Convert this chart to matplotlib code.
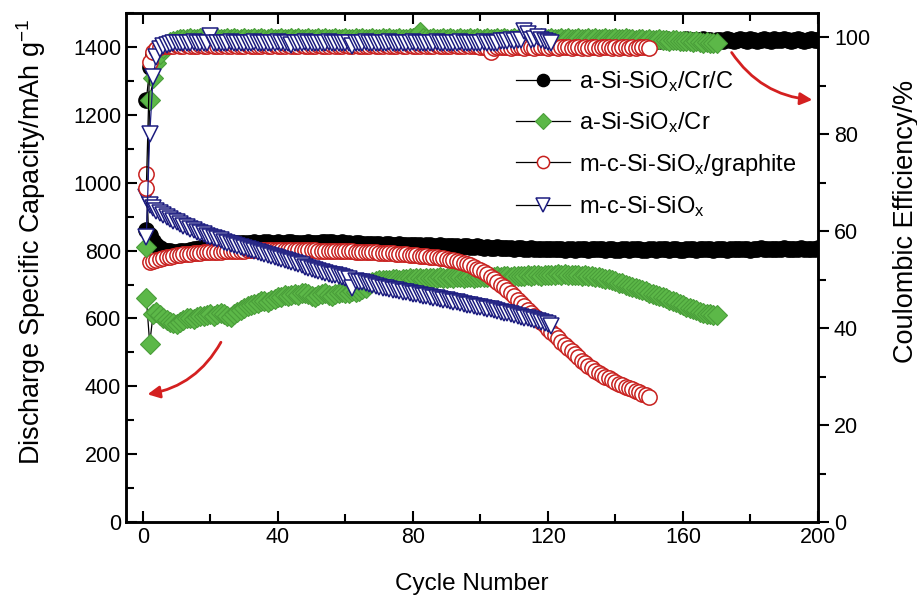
"""Cycling capacity and coulombic efficiency of the Si-SiOx anodes."""

import matplotlib
matplotlib.use("Agg")
import matplotlib.pyplot as plt
from matplotlib.ticker import MultipleLocator
import numpy as np

plt.rcParams["font.family"] = ["Liberation Sans", "DejaVu Sans"]
plt.rcParams["mathtext.fontset"] = "custom"
plt.rcParams["mathtext.rm"] = "Liberation Sans"
plt.rcParams["mathtext.it"] = "Liberation Sans"

labels = [
    "a-Si-SiO$_x$/Cr/C",
    "a-Si-SiO$_x$/Cr",
    "m-c-Si-SiO$_x$/graphite",
    "m-c-Si-SiO$_x$",
]

# discharge capacity (mAh/g), one value per cycle starting at cycle 1
cap_cr_c = [
    860, 845, 828, 815, 808, 803, 800, 798, 797, 797,
    798, 799, 800, 802, 804, 806, 808, 810, 812, 814,
    815, 816, 818, 819, 820, 821, 821, 822, 822, 823,
    822, 823, 824, 823, 822, 824, 825, 823, 822, 824,
    823, 822, 824, 825, 823, 822, 821, 823, 824, 822,
    821, 823, 824, 825, 826, 824, 823, 822, 824, 823,
    821, 820, 822, 821, 819, 820, 818, 819, 820, 818,
    817, 818, 819, 817, 816, 818, 817, 815, 816, 817,
    815, 816, 814, 815, 816, 814, 813, 815, 814, 812,
    813, 814, 812, 811, 813, 812, 810, 811, 812, 810,
    809, 810, 808, 809, 810, 808, 807, 809, 808, 806,
    807, 808, 806, 805, 807, 806, 805, 804, 806, 805,
    804, 805, 806, 804, 803, 805, 804, 803, 805, 806,
    804, 803, 805, 804, 806, 805, 803, 804, 805, 803,
    802, 804, 805, 803, 804, 806, 805, 803, 802, 804,
    805, 803, 804, 806, 804, 803, 805, 804, 802, 803,
    805, 806, 804, 803, 805, 804, 806, 805, 803, 804,
    806, 805, 803, 804, 806, 805, 804, 806, 805, 803,
    804, 806, 807, 805, 804, 806, 805, 804, 806, 807,
    805, 804, 806, 805, 807, 806, 804, 805, 806, 807,
]
cap_cr = [
    659, 526, 612, 620, 610, 600, 594, 590, 586, 584,
    590, 596, 600, 602, 598, 604, 608, 606, 610, 612,
    608, 614, 616, 612, 606, 604, 612, 620, 626, 630,
    636, 640, 642, 646, 650, 652, 648, 654, 658, 662,
    664, 668, 666, 670, 672, 668, 674, 676, 672, 666,
    662, 668, 672, 676, 670, 666, 672, 676, 678, 674,
    676, 680, 678, 682, 686, 690, 702, 708, 710, 712,
    712, 714, 713, 715, 716, 714, 716, 717, 718, 716,
    718, 719, 717, 719, 720, 718, 720, 721, 719, 720,
    721, 720, 722, 721, 719, 721, 722, 720, 722, 721,
    722, 723, 721, 723, 724, 722, 724, 725, 723, 725,
    726, 724, 726, 727, 725, 727, 728, 726, 728, 729,
    727, 729, 730, 728, 730, 729, 727, 729, 728, 726,
    727, 725, 724, 722, 721, 719, 717, 715, 713, 710,
    705, 703, 700, 697, 694, 691, 688, 684, 680, 676,
    672, 669, 666, 662, 659, 655, 651, 647, 643, 639,
    635, 631, 627, 624, 620, 617, 614, 612, 610, 609,
]
cap_graphite = [
    1025, 765, 768, 772, 775, 778, 780, 782, 784, 786,
    788, 789, 790, 791, 792, 793, 794, 795, 795, 796,
    796, 797, 797, 798, 798, 799, 799, 800, 800, 800,
    801, 801, 801, 801, 802, 802, 802, 802, 802, 802,
    802, 802, 802, 802, 802, 801, 801, 801, 801, 801,
    801, 800, 800, 800, 800, 800, 799, 799, 799, 798,
    798, 798, 797, 797, 797, 796, 796, 795, 795, 794,
    794, 793, 793, 792, 791, 791, 790, 789, 788, 787,
    786, 785, 784, 783, 782, 781, 780, 778, 777, 775,
    773, 771, 769, 766, 763, 760, 756, 752, 747, 742,
    736, 730, 723, 716, 708, 700, 692, 683, 674, 665,
    655, 645, 636, 626, 617, 608, 599, 590, 580, 570,
    561, 551, 541, 531, 522, 512, 503, 494, 485, 476,
    468, 460, 453, 446, 440, 434, 428, 423, 418, 413,
    408, 403, 399, 395, 391, 387, 383, 378, 373, 367,
]
cap_sio = [
    958, 935, 926, 918, 911, 905, 899, 893, 888, 883,
    878, 873, 868, 864, 860, 856, 852, 848, 844, 840,
    837, 833, 830, 826, 823, 820, 817, 813, 810, 807,
    804, 801, 798, 795, 792, 789, 786, 783, 780, 777,
    774, 771, 768, 765, 762, 759, 756, 753, 750, 747,
    744, 741, 738, 735, 732, 729, 727, 724, 721, 718,
    716, 690, 711, 708, 706, 703, 701, 698, 696, 694,
    691, 689, 687, 685, 683, 681, 679, 677, 675, 673,
    671, 669, 667, 665, 663, 661, 659, 657, 655, 653,
    651, 649, 647, 645, 643, 641, 639, 637, 635, 633,
    631, 629, 627, 624, 622, 620, 617, 615, 612, 610,
    607, 605, 602, 600, 597, 595, 592, 590, 587, 585,
    578,
]

# coulombic efficiency (%), one value per cycle starting at cycle 1
ce_cr_c = [
    87.0, 93.8, 96.5, 97.6, 98.2, 98.6, 98.9, 99.1, 99.2, 99.3,
    99.3, 99.4, 99.4, 99.3, 99.5, 99.4, 99.4, 99.5, 99.3, 99.4,
    99.5, 99.4, 99.3, 99.5, 99.4, 99.6, 99.4, 99.5, 99.3, 99.4,
    99.5, 99.4, 99.6, 99.5, 99.4, 99.3, 99.5, 99.4, 99.5, 99.6,
    99.4, 99.5, 99.3, 99.4, 99.5, 99.6, 99.4, 99.5, 99.4, 99.3,
    99.5, 99.4, 99.6, 99.5, 99.3, 99.4, 99.5, 99.4, 99.6, 99.5,
    99.4, 99.3, 99.5, 99.4, 99.5, 99.6, 99.4, 99.3, 99.5, 99.4,
    99.5, 99.4, 99.6, 99.5, 99.4, 99.3, 99.5, 99.6, 99.4, 99.5,
    99.4, 99.5, 99.3, 99.4, 99.6, 99.5, 99.4, 99.5, 99.3, 99.4,
    99.5, 99.6, 99.4, 99.5, 99.4, 99.3, 99.5, 99.4, 99.6, 99.5,
    99.4, 99.5, 99.3, 99.6, 99.4, 99.5, 99.4, 99.6, 99.5, 99.3,
    99.4, 99.5, 99.6, 99.4, 99.3, 99.5, 99.4, 99.6, 99.5, 99.4,
    99.3, 99.5, 99.4, 99.6, 99.5, 99.3, 99.4, 99.5, 99.6, 99.4,
    99.5, 99.3, 99.4, 99.6, 99.5, 99.4, 99.3, 99.5, 99.6, 99.4,
    99.5, 99.4, 99.3, 99.5, 99.6, 99.4, 99.5, 99.3, 99.4, 99.6,
    99.5, 99.4, 99.3, 99.5, 99.6, 99.4, 99.5, 99.4, 99.3, 99.5,
    99.6, 99.4, 99.5, 99.3, 99.4, 99.6, 99.5, 99.4, 99.3, 99.5,
    99.5, 99.3, 99.6, 99.4, 99.2, 99.5, 99.7, 99.4, 99.3, 99.6,
    99.5, 99.2, 99.4, 99.6, 99.5, 99.3, 99.6, 99.4, 99.5, 99.7,
    99.4, 99.3, 99.5, 99.6, 99.4, 99.2, 99.5, 99.6, 99.4, 99.5,
]
ce_cr = [
    56.7, 87.0, 91.5, 94.6, 96.6, 97.8, 98.6, 99.0, 99.3, 99.5,
    99.6, 99.7, 99.6, 99.8, 99.7, 99.6, 99.8, 99.7, 99.9, 99.7,
    99.6, 99.8, 99.7, 99.6, 99.8, 99.7, 99.9, 99.6, 99.7, 99.8,
    99.7, 99.6, 99.8, 99.7, 99.9, 99.7, 99.6, 99.8, 99.7, 99.6,
    99.8, 99.7, 99.6, 99.9, 99.7, 99.8, 99.6, 99.7, 99.8, 99.7,
    99.6, 99.8, 99.7, 99.9, 99.6, 99.7, 99.8, 99.7, 99.6, 99.8,
    99.7, 99.6, 99.8, 99.7, 99.9, 99.7, 99.6, 99.8, 99.7, 99.6,
    99.8, 99.7, 99.9, 99.6, 99.7, 99.8, 99.7, 99.6, 99.8, 99.9,
    99.7, 101.0, 99.8, 99.6, 99.7, 99.8, 99.7, 99.6, 99.8, 99.7,
    99.9, 99.6, 99.7, 99.8, 99.7, 99.6, 99.8, 99.7, 99.9, 99.7,
    99.6, 99.8, 99.7, 99.6, 99.8, 99.7, 99.9, 99.6, 99.7, 99.8,
    99.7, 99.6, 99.8, 99.7, 99.9, 99.7, 99.6, 99.8, 99.7, 99.6,
    99.8, 99.7, 99.6, 99.8, 99.7, 99.9, 99.6, 99.7, 99.8, 99.7,
    99.6, 99.8, 99.7, 99.9, 99.6, 99.7, 99.8, 99.7, 99.6, 99.8,
    99.7, 99.6, 99.8, 99.7, 99.6, 99.5, 99.7, 99.6, 99.5, 99.6,
    99.5, 99.4, 99.6, 99.5, 99.4, 99.3, 99.5, 99.4, 99.3, 99.2,
    99.3, 99.2, 99.1, 99.2, 99.0, 98.9, 99.0, 98.9, 98.8, 98.8,
]
ce_graphite = [
    69.0, 95.0, 96.9, 97.6, 97.9, 98.1, 98.2, 98.3, 98.2, 98.4,
    98.3, 98.2, 98.4, 98.3, 98.1, 98.3, 98.4, 98.2, 98.3, 98.4,
    98.2, 98.3, 98.1, 98.4, 98.3, 98.2, 98.4, 98.3, 98.2, 98.3,
    98.4, 98.2, 98.3, 98.1, 98.3, 98.4, 98.2, 98.3, 98.4, 98.2,
    98.3, 98.1, 98.4, 98.3, 98.2, 98.3, 98.4, 98.2, 98.3, 98.1,
    98.3, 98.4, 98.2, 98.3, 98.2, 98.4, 98.3, 98.1, 98.3, 98.4,
    98.2, 98.3, 98.4, 98.2, 98.3, 98.1, 98.3, 98.4, 98.2, 98.3,
    98.2, 98.4, 98.3, 98.1, 98.3, 98.4, 98.2, 98.3, 98.4, 98.2,
    98.3, 98.1, 98.4, 98.3, 98.2, 98.3, 98.4, 98.2, 98.3, 98.1,
    98.3, 98.4, 98.2, 98.3, 98.2, 98.4, 98.3, 98.1, 98.2, 98.0,
    97.9, 97.8, 97.0, 97.8, 97.9, 98.0, 97.9, 98.0, 97.8, 97.9,
    98.0, 97.9, 97.8, 98.0, 97.9, 97.8, 97.9, 98.0, 97.9, 97.8,
    97.9, 98.0, 97.8, 97.9, 98.0, 97.9, 97.8, 97.9, 98.0, 97.8,
    97.9, 97.8, 98.0, 97.9, 97.8, 97.9, 98.0, 97.9, 97.8, 97.9,
    97.8, 97.9, 98.0, 97.8, 97.9, 97.8, 97.9, 98.0, 97.9, 97.8,
]
ce_sio = [
    58.8, 80.0, 91.8, 96.0, 97.5, 98.2, 98.5, 98.7, 98.8, 98.9,
    98.8, 98.9, 98.8, 98.9, 99.0, 98.8, 98.9, 98.8, 98.9, 100.2,
    98.9, 98.8, 98.9, 98.8, 98.9, 99.0, 98.8, 98.9, 98.8, 98.9,
    98.8, 98.9, 99.0, 98.8, 98.9, 98.8, 98.9, 98.8, 98.9, 99.0,
    98.8, 98.9, 98.8, 98.5, 98.9, 98.8, 98.9, 99.0, 98.8, 98.9,
    98.8, 98.9, 98.8, 98.9, 99.0, 98.8, 98.9, 98.8, 98.9, 98.8,
    98.9, 98.2, 98.9, 98.8, 98.9, 99.0, 98.8, 98.9, 98.8, 98.9,
    98.8, 98.9, 99.0, 98.8, 98.9, 98.8, 98.9, 98.8, 98.9, 99.0,
    98.8, 98.9, 98.8, 98.9, 98.8, 98.9, 99.0, 98.8, 98.9, 98.8,
    98.9, 98.8, 98.9, 99.0, 98.8, 98.9, 98.8, 98.9, 98.8, 98.9,
    99.0, 98.8, 98.9, 98.8, 98.9, 99.2, 99.3, 99.2, 99.4, 99.3,
    99.4, 99.5, 101.4, 100.6, 99.5, 99.6, 100.0, 99.4, 99.2, 99.0,
    98.8,
]

capacities = [cap_cr_c, cap_cr, cap_graphite, cap_sio]
efficiencies = [ce_cr_c, ce_cr, ce_graphite, ce_sio]

styles = [
    dict(marker="o", ms=11, mfc="black", mec="black", mew=1.0, color="black"),
    dict(marker="D", ms=10, mfc="#5cb848", mec="#4a9e3a", mew=0.8, color="black"),
    dict(marker="o", ms=11, mfc="white", mec="#c8201e", mew=1.1, color="black"),
    dict(marker="v", ms=12, mfc="white", mec="#1c1c80", mew=1.1, color="#1c1c80"),
]

fig = plt.figure(figsize=(9.17, 6.07), dpi=100)
ax = fig.add_axes([0.1375, 0.14, 0.7545, 0.8385])
ax2 = ax.twinx()

handles = []
for lab, cap, ce, st in zip(labels, capacities, efficiencies, styles):
    h, = ax.plot(np.arange(1, len(cap) + 1), cap, lw=0.9, label=lab, **st)
    ax2.plot(np.arange(1, len(ce) + 1), ce, lw=0.9, **st)
    handles.append(h)

ax.set_xlim(-5, 200)
ax.set_ylim(0, 1500)
ax2.set_ylim(0, 105)

ax.xaxis.set_major_locator(MultipleLocator(40))
ax.xaxis.set_minor_locator(MultipleLocator(20))
ax.yaxis.set_major_locator(MultipleLocator(200))
ax.yaxis.set_minor_locator(MultipleLocator(100))
ax2.yaxis.set_major_locator(MultipleLocator(20))
ax2.yaxis.set_minor_locator(MultipleLocator(10))

ax.tick_params(axis="both", which="both", direction="in", labelsize=15.5, width=1.5)
ax.tick_params(axis="x", which="both", top=True)
ax.tick_params(which="major", length=8)
ax.tick_params(which="minor", length=6)
ax2.tick_params(axis="y", which="both", direction="out", labelsize=15.5, width=1.5)
ax2.tick_params(which="major", length=8)
ax2.tick_params(which="minor", length=6)
for a in (ax, ax2):
    for sp in a.spines.values():
        sp.set_linewidth(1.8)

ax.set_xlabel("Cycle Number", fontsize=17.5, labelpad=18)
ax.set_ylabel("Discharge Specific Capacity/mAh g$^{-1}$", fontsize=19.5)
ax.yaxis.set_label_coords(-0.113, 0.55)
ax2.set_ylabel("Coulombic Efficiency/%", fontsize=19.5)
ax2.yaxis.set_label_coords(1.108, 0.59)

leg_handles = []
for h in handles:
    lh, = ax2.plot([], [], color="black", lw=0.9, marker=h.get_marker(),
                   ms=h.get_markersize() * 0.8, mfc=h.get_markerfacecolor(),
                   mec=h.get_markeredgecolor(), mew=h.get_markeredgewidth())
    leg_handles.append(lh)
ax2.legend(leg_handles, labels, loc="upper left", bbox_to_anchor=(0.55, 0.909),
           frameon=False, fontsize=17, handlelength=2.3, handletextpad=0.35,
           labelspacing=0.7, borderaxespad=0)

arrow = dict(arrowstyle="-|>", color="#d42020", lw=2.0, mutation_scale=18)
ax.annotate("", xy=(0.027, 0.25), xytext=(0.139, 0.358), xycoords="axes fraction",
            arrowprops=dict(arrow, connectionstyle="arc3,rad=-0.25"))
ax.annotate("", xy=(0.996, 0.829), xytext=(0.873, 0.927), xycoords="axes fraction",
            arrowprops=dict(arrow, connectionstyle="arc3,rad=0.25"))

fig.savefig("out.png", dpi=100)
plt.close(fig)
